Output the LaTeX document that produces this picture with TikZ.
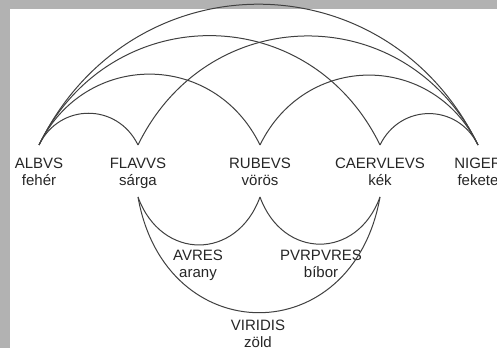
\documentclass[tikz,border=0pt]{standalone}
\usepackage{fontspec}
\setmainfont{Liberation Sans}
\begin{document}
\begin{tikzpicture}[x=1pt,y=1pt,
  lbl/.style={anchor=north,inner sep=0pt,align=center,text=black!85,
    font=\fontsize{15}{17}\selectfont},
  arcline/.style={draw=black!75,line width=1pt},
  uparc/.style={out=64,in=116,looseness=1.22},
  lowarc/.style={out=-70,in=-110,looseness=1.43},
  bigarc/.style={out=-80,in=-100,looseness=1.66}]
\useasboundingbox (0,0) rectangle (497,348);
\clip (0,0) rectangle (497,348);
\fill[black!30] (0,0) rectangle (497,348);
\fill[white] (10,0) rectangle (497,339);
% colour nodes
\node[lbl] (A) at (39,190) {ALBVS\\fehér};
\node[lbl] (F) at (138,190) {FLAVVS\\sárga};
\node[lbl] (R) at (260,190) {RUBEVS\\vörös};
\node[lbl] (C) at (380,190) {CAERVLEVS\\kék};
\node[lbl] (N) at (478,190) {NIGER\\fekete};
\node[lbl] (Au) at (198,98) {AVRES\\arany};
\node[lbl] (P) at (321,98) {PVRPVRES\\bíbor};
\node[lbl] (V) at (258,28) {VIRIDIS\\zöld};
% upper arcs
\draw[arcline] ([yshift=13pt]A.north) to[uparc] ([yshift=13pt]F.north);
\draw[arcline] ([yshift=13pt]A.north) to[uparc] ([yshift=13pt]R.north);
\draw[arcline] ([yshift=13pt]A.north) to[uparc] ([yshift=13pt]C.north);
\draw[arcline] ([yshift=13pt]A.north) to[uparc] ([yshift=13pt]N.north);
\draw[arcline] ([yshift=13pt]F.north) to[uparc] ([yshift=13pt]N.north);
\draw[arcline] ([yshift=13pt]R.north) to[uparc] ([yshift=13pt]N.north);
\draw[arcline] ([yshift=13pt]C.north) to[uparc] ([yshift=13pt]N.north);
% lower arcs
\draw[arcline] ([yshift=-39pt]F.north) to[lowarc] ([yshift=-39pt]R.north);
\draw[arcline] ([yshift=-39pt]R.north) to[lowarc] ([yshift=-39pt]C.north);
\draw[arcline] ([yshift=-39pt]F.north) to[bigarc] ([yshift=-39pt]C.north);
\end{tikzpicture}
\end{document}
